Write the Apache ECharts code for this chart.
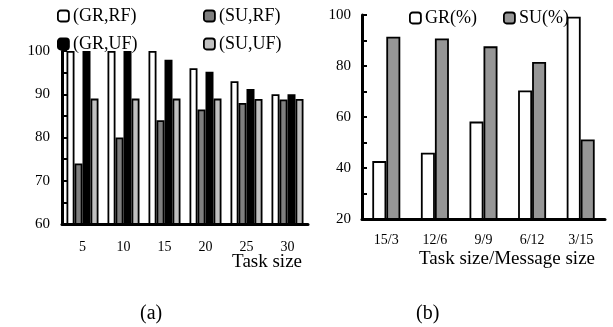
<!DOCTYPE html>
<html>
<head>
<meta charset="utf-8">
<script src="https://cdn.jsdelivr.net/npm/echarts@6/dist/echarts.min.js"></script>
<style>
  html, body { margin: 0; padding: 0; background: #fff; }
  #main { width: 613px; height: 327px; }
</style>
</head>
<body>
<div id="main"></div>
<script>
// (a) task size vs GR / SU
const taskSizes = ['5', '10', '15', '20', '25', '30'];
const grRF = [100, 100, 100, 96, 93, 90];
const suRF = [74, 80, 84, 86.5, 88, 88.8];
const grUF = [100, 100, 98, 95.2, 91.2, 90];
const suUF = [89, 89, 89, 89, 88.9, 88.9];

// (b) task size / message size
const ratios = ['15/3', '12/6', '9/9', '6/12', '3/15'];
const grPct = [42.7, 46, 58.2, 70.4, 99.3];
const suPct = [91.5, 90.8, 87.7, 81.6, 51.2];

const font = 'Liberation Serif';
const black = '#000';

const bar = (name, data, color, axis, width) => ({
  name: name,
  type: 'bar',
  xAxisIndex: axis,
  yAxisIndex: axis,
  data: data,
  barWidth: width,
  barGap: '0%',
  itemStyle: { color: color, borderColor: black, borderWidth: 1.8 },
  emphasis: { disabled: true }
});

const legendAt = (name, left, top) => ({
  data: [name],
  left: left,
  top: top,
  itemWidth: 11,
  itemHeight: 11,
  padding: 0,
  selectedMode: false,
  itemStyle: { borderColor: black, borderWidth: 1.8 },
  textStyle: { fontFamily: font, fontSize: 18, color: black, padding: [0, 0, 0, -1] }
});

const xAxisAt = (idx, cats, margin) => ({
  type: 'category',
  gridIndex: idx,
  data: cats,
  axisLine: { lineStyle: { color: black, width: 3 } },
  axisTick: { inside: true, length: 5, lineStyle: { color: black, width: 2 } },
  axisLabel: { fontFamily: font, fontSize: 14, color: black, margin: margin }
});

const yAxisAt = (idx, min, max, step, margin) => ({
  type: 'value',
  gridIndex: idx,
  min: min,
  max: max,
  interval: step,
  splitLine: { show: false },
  axisLine: { show: true, lineStyle: { color: black, width: 3 } },
  axisTick: { show: true, inside: true, length: 5, lineStyle: { color: black, width: 2 } },
  axisLabel: {
    fontFamily: font, fontSize: 15, color: black, margin: margin,
    formatter: v => (v % (step * 2) === 0 ? String(v) : '')
  }
});

const chart = echarts.init(document.getElementById('main'), null, { renderer: 'canvas' });

const option = {
  backgroundColor: '#fff',
  animation: false,
  grid: [
    { left: 62, top: 51, width: 246, height: 173 },
    { left: 362, top: 15, width: 243, height: 204 }
  ],
  legend: [
    legendAt('(GR,RF)', 57, 7),
    legendAt('(SU,RF)', 203, 7),
    legendAt('(GR,UF)', 57, 35),
    legendAt('(SU,UF)', 203, 35),
    legendAt('GR(%)', 409, 9),
    legendAt('SU(%)', 503, 9)
  ],
  xAxis: [xAxisAt(0, taskSizes, 16), xAxisAt(1, ratios, 14)],
  yAxis: [yAxisAt(0, 60, 100, 5, 12), yAxisAt(1, 20, 100, 10, 11)],
  series: [
    bar('(GR,RF)', grRF, '#fff', 0, 8),
    bar('(SU,RF)', suRF, '#7f7f7f', 0, 8),
    bar('(GR,UF)', grUF, '#000', 0, 8),
    bar('(SU,UF)', suUF, '#c0c0c0', 0, 8),
    bar('GR(%)', grPct, '#fff', 1, 14),
    bar('SU(%)', suPct, '#969696', 1, 14)
  ],
  graphic: [
    { type: 'text', right: 311, top: 253, style: { text: 'Task size', font: '19px "Liberation Serif"', fill: black } },
    { type: 'text', right: 18, top: 250, style: { text: 'Task size/Message size', font: '19px "Liberation Serif"', fill: black } },
    { type: 'text', left: 140, top: 304, style: { text: '(a)', font: '20px "Liberation Serif"', fill: black } },
    { type: 'text', left: 416, top: 304, style: { text: '(b)', font: '20px "Liberation Serif"', fill: black } }
  ]
};

chart.setOption(option);
</script>
</body>
</html>
